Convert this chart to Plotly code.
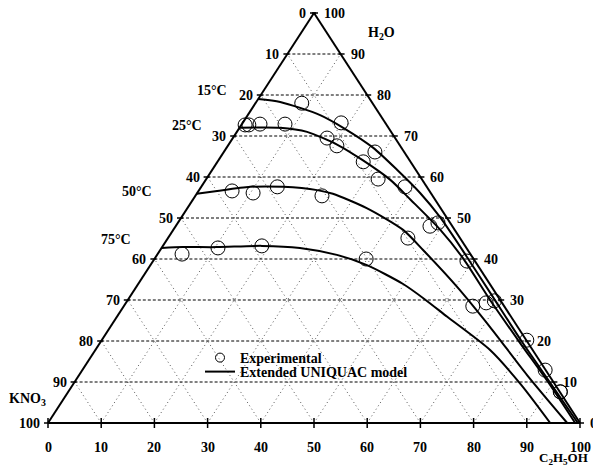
import plotly.graph_objects as go

# ---------------------------------------------------------------
# KNO3 - H2O - C2H5OH solubility isotherms (mass %)
# KNO3 is the balance: 100 - H2O - C2H5OH
# ---------------------------------------------------------------
temps = ["15°C", "25°C", "50°C", "75°C"]

# Extended UNIQUAC model curves
model_15_h2o = [79.0, 78.3, 75.1, 72.0, 67.1, 61.7, 56.1, 50.2, 40.5, 30.7, 19.5, 10.0, 0.0]
model_15_etoh = [0.0, 4.5, 13.6, 19.5, 27.6, 34.8, 41.9, 48.6, 58.5, 68.3, 79.5, 89.3, 99.6]

model_25_h2o = [72.0, 72.0, 71.0, 67.8, 64.1, 59.3, 54.4, 47.1, 40.2, 30.0, 19.5, 10.0, 0.0]
model_25_etoh = [0.0, 7.6, 13.2, 20.6, 27.1, 34.7, 41.0, 50.2, 57.9, 68.1, 79.0, 89.0, 99.1]

model_50_h2o = [55.9, 56.6, 57.6, 57.6, 56.8, 55.9, 52.4, 47.1, 42.2, 33.2, 23.4, 11.7, 0.0]
model_50_etoh = [0.0, 3.5, 9.2, 15.4, 22.2, 25.6, 33.7, 43.2, 49.4, 60.3, 71.4, 84.2, 97.6]

model_75_h2o = [42.7, 42.9, 42.9, 43.2, 42.7, 41.0, 38.5, 33.9, 30.2, 25.9, 17.8, 9.3, 0.0]
model_75_etoh = [0.0, 3.9, 10.3, 18.6, 26.0, 33.8, 40.7, 49.8, 55.7, 62.1, 74.2, 84.3, 94.4]

# Experimental solubility data
exp_15_h2o = [78.0, 73.2, 66.1, 57.6, 48.8, 39.5, 29.8, 20.2, 7.6]
exp_15_etoh = [8.7, 18.5, 28.4, 38.3, 48.9, 59.0, 69.0, 79.9, 92.5]

exp_25_h2o = [72.7, 72.7, 72.9, 72.9, 69.5, 67.6, 63.7, 59.5, 48.0, 29.3, 12.9, 7.6]
exp_25_etoh = [0.7, 1.4, 3.4, 8.1, 17.7, 20.5, 27.4, 32.3, 47.8, 67.7, 87.0, 92.5]

exp_50_h2o = [56.6, 56.1, 57.6, 55.4, 45.1, 28.5]
exp_50_etoh = [6.3, 10.5, 14.3, 23.8, 45.1, 65.6]

exp_75_h2o = [41.2, 42.7, 43.2, 40.0]
exp_75_etoh = [4.6, 10.6, 18.6, 39.8]

ticks = list(range(0, 101, 10))

FONT = "Liberation Serif"
W_PX, H_PX = 593, 466
# triangle geometry in pixels (base from X0 to X1 at Y_BASE, apex at Y_TOP)
X0, X1, Y_BASE, Y_TOP = 48, 580, 423, 13
BASE = X1 - X0
HEIGHT = Y_BASE - Y_TOP


def to_xy(h2o, etoh):
    """Ternary composition (mass %) -> cartesian (x along base, y = H2O fraction)."""
    xs = [(e + w / 2.0) / 100.0 for w, e in zip(h2o, etoh)]
    ys = [w / 100.0 for w in h2o]
    return xs, ys


px_x = 1.0 / BASE      # one pixel in x data units
px_y = 1.0 / HEIGHT    # one pixel in y data units

fig = go.Figure()

shapes = []
# grid lines
for v in ticks[1:-1]:
    f = v / 100.0
    # constant C2H5OH (parallel to left edge), dotted
    shapes.append(dict(type="line", x0=f, y0=0, x1=f + (1 - f) / 2, y1=1 - f,
                       line=dict(color="#555555", width=1, dash="1px,3px"), layer="below"))
    # constant KNO3 (parallel to right edge), dotted
    shapes.append(dict(type="line", x0=1 - f, y0=0, x1=(1 - f) / 2, y1=1 - f,
                       line=dict(color="#555555", width=1, dash="1px,3px"), layer="below"))
    # constant H2O (horizontal), dashed
    shapes.append(dict(type="line", x0=f / 2, y0=f, x1=1 - f / 2, y1=f,
                       line=dict(color="black", width=1, dash="3px,2px"), layer="below"))

# triangle edges
edge = dict(color="black", width=2)
shapes.append(dict(type="line", x0=0, y0=0, x1=1, y1=0, line=edge))
shapes.append(dict(type="line", x0=0, y0=0, x1=0.5, y1=1, line=edge))
shapes.append(dict(type="line", x0=1, y0=0, x1=0.5, y1=1, line=edge))

# tick marks
for v in ticks:
    f = v / 100.0
    # bottom (C2H5OH)
    shapes.append(dict(type="line", x0=f, y0=-5 * px_y, x1=f, y1=5 * px_y,
                       line=dict(color="black", width=1.5)))
    # left (KNO3): point where KNO3 = v on the left edge
    wl = 1 - f
    shapes.append(dict(type="line", x0=wl / 2 - 4 * px_x, y0=wl, x1=wl / 2 + 2 * px_x, y1=wl,
                       line=dict(color="black", width=1.5)))
    # right (H2O): point where H2O = v on the right edge
    shapes.append(dict(type="line", x0=1 - f / 2 - 2 * px_x, y0=f, x1=1 - f / 2 + 4 * px_x, y1=f,
                       line=dict(color="black", width=1.5)))

annotations = []
tick_font = dict(family=FONT, size=14, color="black")
for v in ticks:
    f = v / 100.0
    annotations.append(dict(x=f, y=0, text=f"<b>{v}</b>", showarrow=False,
                            xanchor="center", yanchor="middle", yshift=-24, font=tick_font))
    wl = 1 - f
    annotations.append(dict(x=wl / 2, y=wl, text=f"<b>{v}</b>", showarrow=False,
                            xanchor="right", yanchor="middle", xshift=-6, font=tick_font))
    annotations.append(dict(x=1 - f / 2, y=f, text=f"<b>{v}</b>", showarrow=False,
                            xanchor="left", yanchor="middle", xshift=8, font=tick_font))


def px_to_data(px, py):
    return (px - X0) / BASE, (Y_BASE - py) / HEIGHT


# component labels
for label, (px, py), size in [("H<sub>2</sub>O", (381, 33), 14),
                              ("KNO<sub>3</sub>", (27, 399), 14),
                              ("C<sub>2</sub>H<sub>5</sub>OH", (563, 458), 13)]:
    x, y = px_to_data(px, py)
    annotations.append(dict(x=x, y=y, text=f"<b>{label}</b>", showarrow=False,
                            xanchor="center", yanchor="middle",
                            font=dict(family=FONT, size=size, color="black")))

# isotherm labels
for label, (px, py) in zip(temps, [(212, 90), (187, 125), (137, 191), (116, 239)]):
    x, y = px_to_data(px, py)
    annotations.append(dict(x=x, y=y, text=f"<b>{label}</b>", showarrow=False,
                            xanchor="center", yanchor="middle", font=tick_font))

# model curves
models = [(model_15_h2o, model_15_etoh), (model_25_h2o, model_25_etoh),
          (model_50_h2o, model_50_etoh), (model_75_h2o, model_75_etoh)]
for t, (h, e) in zip(temps, models):
    xs, ys = to_xy(h, e)
    fig.add_trace(go.Scatter(x=xs, y=ys, mode="lines", name=f"model {t}",
                             line=dict(color="black", width=2, shape="spline", smoothing=0.7),
                             showlegend=False, hoverinfo="skip"))

# experimental points
exps = [(exp_15_h2o, exp_15_etoh), (exp_25_h2o, exp_25_etoh),
        (exp_50_h2o, exp_50_etoh), (exp_75_h2o, exp_75_etoh)]
for t, (h, e) in zip(temps, exps):
    xs, ys = to_xy(h, e)
    fig.add_trace(go.Scatter(x=xs, y=ys, mode="markers", name=f"exp {t}",
                             marker=dict(symbol="circle-open", size=14, color="black",
                                         line=dict(width=1)),
                             showlegend=False))

# legend entries (one per legend box so the rows sit close together)
fig.add_trace(go.Scatter(x=[None], y=[None], mode="markers", name="Experimental",
                         legend="legend",
                         marker=dict(symbol="circle-open", size=9, color="black",
                                     line=dict(width=1))))
fig.add_trace(go.Scatter(x=[None], y=[None], mode="lines", name="Extended UNIQUAC model",
                         legend="legend2",
                         line=dict(color="black", width=2)))

legend_font = dict(family=FONT, size=14, color="black", weight="bold")
fig.update_layout(
    width=W_PX, height=H_PX,
    margin=dict(l=0, r=0, t=0, b=0),
    paper_bgcolor="white", plot_bgcolor="white",
    xaxis=dict(range=[-X0 / BASE, (W_PX - X0) / BASE], visible=False, fixedrange=True),
    yaxis=dict(range=[-(H_PX - Y_BASE) / HEIGHT, Y_BASE / HEIGHT], visible=False, fixedrange=True),
    shapes=shapes,
    annotations=annotations,
    showlegend=True,
    legend=dict(x=200 / W_PX, y=1 - 342 / H_PX, xanchor="left", yanchor="top",
                bgcolor="rgba(0,0,0,0)", font=legend_font),
    legend2=dict(x=200 / W_PX, y=1 - 356 / H_PX, xanchor="left", yanchor="top",
                 bgcolor="rgba(0,0,0,0)", font=legend_font),
)

fig.write_html("out.html")
